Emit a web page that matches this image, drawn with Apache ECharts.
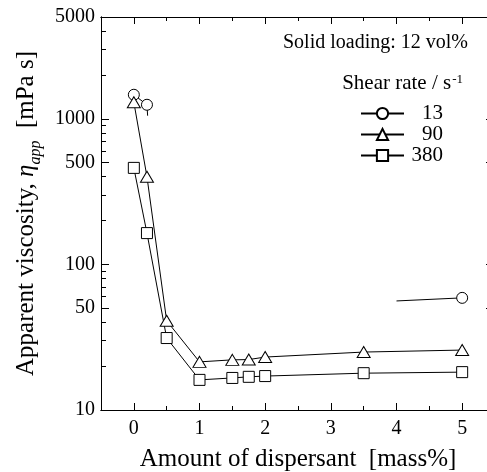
<!DOCTYPE html>
<html><head><meta charset="utf-8">
<script src="https://cdn.jsdelivr.net/npm/echarts@6/dist/echarts.min.js"></script>
<style>html,body{margin:0;padding:0;background:#fff}#c{width:487px;height:472px}</style>
</head><body><div id="c"></div>
<script>
// ---- data ----
const xTickLabels = [0, 1, 2, 3, 4, 5];
const xMinorTicks = [0.5, 1.5, 2.5, 3.5, 4.5];
const yTickLabels = [10, 50, 100, 500, 1000, 5000];
const yMinorTicks = [20, 30, 40, 60, 70, 80, 90, 200, 300, 400, 600, 700, 800, 900, 2000, 3000, 4000];

// shear rate 13 s^-1 (measured points)
const dispersant13 = [0, 0.2, 5];
const visc13 = [1462, 1248, 58.9];
// continuing line pieces of the 13 s^-1 curve
const stub13X = [0.2, 0.21];
const stub13Y = [1248, 1050];
const tail13X = [4, 5];
const tail13Y = [56.1, 58.9];

// shear rate 90 s^-1
const dispersant90 = [0, 0.2, 0.5, 1, 1.5, 1.75, 2, 3.5, 5];
const visc90 = [1300, 400, 41, 21.4, 22.1, 22.2, 23.1, 25, 25.8];
// shear rate 380 s^-1
const dispersant380 = [0, 0.2, 0.5, 1, 1.5, 1.75, 2, 3.5, 5];
const visc380 = [460, 164, 31.2, 16.1, 16.6, 16.9, 17.1, 17.9, 18.2];

const seriesNames = ['13', '90', '380'];

// ---- build ----
const FONT = '"Liberation Serif", "Times New Roman", serif';
const pairs = (xs, ys) => xs.map((x, i) => [x, ys[i]]);
const d13 = pairs(dispersant13, visc13);
const d13series = [d13[0], d13[1], [2.5, '-'], d13[2]];
const d13line = pairs(stub13X, stub13Y).concat([[2.5, '-']], pairs(tail13X, tail13Y));

const baseStyle = {
  type: 'line', xAxisIndex: 0, yAxisIndex: 0,
  lineStyle: { color: '#000', width: 1 },
  itemStyle: { color: '#fff', borderColor: '#000', borderWidth: 1 },
  emphasis: { disabled: true }, animation: false
};

const chart = echarts.init(document.getElementById('c'), null, { renderer: 'canvas' });
const axisCommon = {
  axisLine: { show: true, onZero: false, lineStyle: { color: '#000', width: 1 } },
  splitLine: { show: false }
};
const tick = (len, vals) => ({ show: true, inside: true, length: len, customValues: vals, lineStyle: { color: '#000', width: 1 } });
chart.setOption({
  animation: false,
  textStyle: { fontFamily: FONT, color: '#000' },
  grid: { left: 101, top: 17, right: -8, bottom: 62, containLabel: false, outerBoundsMode: 'none' },
  title: [
    { text: 'Solid loading: 12 vol%', right: 19, top: 33, padding: 0,
      textStyle: { fontFamily: FONT, fontSize: 20, fontWeight: 'normal', color: '#000' } },
    { text: '{a|Shear rate / s}{s|-1}', right: 24, top: 73, padding: 0,
      textStyle: { fontFamily: FONT, fontWeight: 'normal', color: '#000',
        rich: { a: { fontFamily: FONT, fontSize: 21, color: '#000', verticalAlign: 'bottom' },
                s: { fontFamily: FONT, fontSize: 13, color: '#000', verticalAlign: 'top', padding: [0, 0, 8, 1] } } } }
  ],
  legend: {
    data: seriesNames, orient: 'vertical', left: 360, top: 103, padding: 0,
    itemWidth: 43, itemHeight: 14, itemGap: 0,
    formatter: n => '{r|' + n + '}',
    textStyle: { fontFamily: FONT, fontSize: 20, color: '#000', lineHeight: 21,
      rich: { r: { fontFamily: FONT, fontSize: 21, lineHeight: 21, height: 21, width: 34, align: 'right', color: '#000' } } }
  },
  xAxis: [
    Object.assign({}, axisCommon, {
      type: 'value', position: 'bottom', min: -0.5, max: 5.5,
      name: 'Amount of dispersant  [mass%]', nameLocation: 'middle', nameGap: 37,
      nameTextStyle: { fontFamily: FONT, fontSize: 25, color: '#000' },
      axisTick: tick(7, xTickLabels),
      axisLabel: { show: true, customValues: xTickLabels, margin: 9, fontFamily: FONT, fontSize: 20, color: '#000' }
    }),
    Object.assign({}, axisCommon, {
      type: 'value', position: 'bottom', min: -0.5, max: 5.5,
      axisTick: tick(4, xMinorTicks), axisLabel: { show: false }
    }),
    Object.assign({}, axisCommon, {
      type: 'value', position: 'top', min: -0.5, max: 5.5,
      axisTick: tick(7, xTickLabels), axisLabel: { show: false }
    }),
    Object.assign({}, axisCommon, {
      type: 'value', position: 'top', min: -0.5, max: 5.5,
      axisTick: tick(4, xMinorTicks), axisLabel: { show: false }
    })
  ],
  yAxis: [
    Object.assign({}, axisCommon, {
      type: 'log', logBase: 10, position: 'left', min: 10, max: 5000,
      name: '{t|Apparent viscosity, }{e|η}{s|app}{t|  [mPa s]}',
      nameLocation: 'middle', nameGap: 62, nameRotate: 90,
      nameTextStyle: { fontFamily: FONT, color: '#000',
        rich: { t: { fontFamily: FONT, fontSize: 25, color: '#000', verticalAlign: 'bottom' },
                e: { fontFamily: FONT, fontSize: 25, fontStyle: 'italic', color: '#000', verticalAlign: 'bottom' },
                s: { fontFamily: FONT, fontSize: 16, fontStyle: 'italic', color: '#000', verticalAlign: 'bottom', padding: [0, 0, -5, 0] } } },
      axisTick: tick(8, yTickLabels),
      axisLabel: { show: true, customValues: yTickLabels, margin: 6, fontFamily: FONT, fontSize: 20, color: '#000',
        formatter: v => String(Math.round(v)) }
    }),
    Object.assign({}, axisCommon, {
      type: 'log', logBase: 10, position: 'left', min: 10, max: 5000,
      axisTick: tick(5, yMinorTicks), axisLabel: { show: false }
    }),
    Object.assign({}, axisCommon, {
      type: 'log', logBase: 10, position: 'right', min: 10, max: 5000,
      axisTick: tick(9, yTickLabels), axisLabel: { show: false }
    })
  ],
  series: [
    Object.assign({}, baseStyle, { name: '13-line', data: d13line, symbol: 'none', z: 2 }),
    Object.assign({}, baseStyle, { name: seriesNames[0], data: d13series, symbol: 'circle', symbolSize: 11, z: 3 }),
    Object.assign({}, baseStyle, { name: seriesNames[1], data: pairs(dispersant90, visc90), symbol: 'triangle', symbolSize: [13, 11], z: 3 }),
    Object.assign({}, baseStyle, { name: seriesNames[2], data: pairs(dispersant380, visc380), symbol: 'rect', symbolSize: 11, z: 3 })
  ]
});
</script>
</body></html>
